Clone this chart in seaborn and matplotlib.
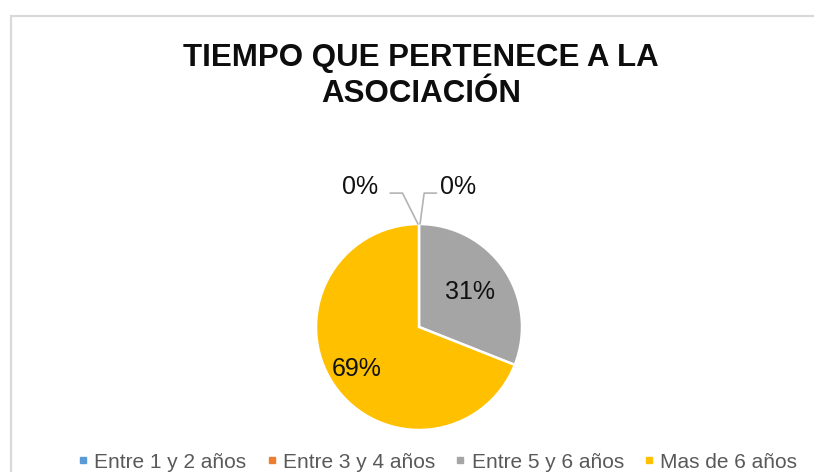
import numpy as np
import seaborn as sns
import matplotlib.pyplot as plt
from matplotlib.lines import Line2D
from matplotlib.patches import Rectangle

categories = ['Entre 1 y 2 años', 'Entre 3 y 4 años', 'Entre 5 y 6 años', 'Mas de 6 años']
values = [0, 0, 31, 69]
labels = ['0%', '0%', '31%', '69%']
colors = ['#5B9BD5', '#ED7D31', '#A5A5A5', '#FFC000']

sns.set_theme(style='white')
plt.rcParams['font.family'] = ['Liberation Sans', 'DejaVu Sans']
palette = sns.color_palette(colors)

W, H = 814, 472
fig = plt.figure(figsize=(W / 100, H / 100), dpi=100)
fig.patch.set_facecolor('white')

# chart frame (runs off the right and bottom of the crop)
fig.patches.append(Rectangle((11 / W, -0.1), 1.0, 1 - 16 / H + 0.1, transform=fig.transFigure,
                             fill=False, edgecolor='#D9D9D9', linewidth=1.6))

fig.text(421 / W, 1 - 76 / H, 'TIEMPO QUE PERTENECE A LA\nASOCIACIÓN', ha='center', va='center',
         fontsize=22.5, fontweight='bold', color='#0d0d0d', linespacing=1.22)

# pie axes: center (419, 327), radius 103 px
cx, cy, r = 419, 327, 103
ax = fig.add_axes([(cx - r) / W, (H - cy - r) / H, 2 * r / W, 2 * r / H])
wedges, _ = ax.pie(values, colors=palette, startangle=90, counterclock=False,
                   wedgeprops=dict(edgecolor='white', linewidth=1.8))
ax.set_xlim(-1, 1)
ax.set_ylim(-1, 1)
ax.axis('off')

# inside labels at each wedge's mid angle
radii = {2: 0.6, 3: 0.73}
for i, w in enumerate(wedges):
    if values[i] == 0:
        continue
    ang = np.deg2rad((w.theta1 + w.theta2) / 2)
    rr = radii[i]
    ax.text(rr * np.cos(ang), rr * np.sin(ang), labels[i], ha='center', va='center',
            fontsize=18, color='#111111')

# zero labels with leader lines
lc = '#B3B3B3'
ax.text(-0.57, 1.36, labels[0], ha='center', va='center', fontsize=18, color='#111111')
ax.text(0.38, 1.36, labels[1], ha='center', va='center', fontsize=18, color='#111111')
ax.plot([-0.28, -0.16, -0.01], [1.30, 1.30, 1.0], color=lc, lw=1.2, clip_on=False)
ax.plot([0.17, 0.05, 0.01], [1.30, 1.30, 1.0], color=lc, lw=1.2, clip_on=False)

handles = [Line2D([0], [0], marker='s', linestyle='', markersize=4.5, color=c) for c in palette]
leg = fig.legend(handles, categories, loc='center', bbox_to_anchor=(435 / W, 1 - 462 / H), ncol=4,
                 frameon=False, handletextpad=0.05, columnspacing=0.7, handlelength=1.0,
                 prop={'family': ['Liberation Sans Narrow', 'Liberation Sans'], 'size': 15})
for t in leg.get_texts():
    t.set_color('#595959')

fig.savefig('out.png', dpi=100, facecolor='white')
